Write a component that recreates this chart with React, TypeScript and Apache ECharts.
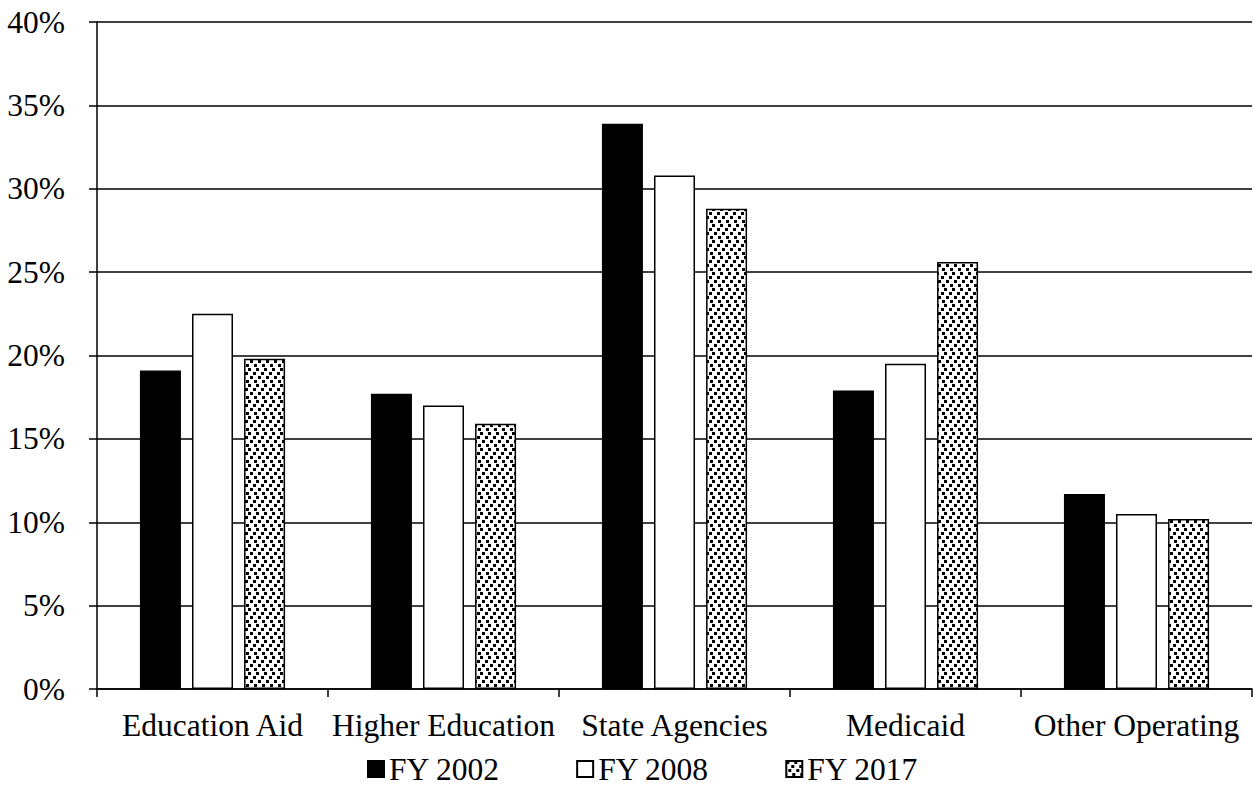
import React, { useEffect, useRef } from "react";
import * as echarts from "echarts";

const categories = ["Education Aid", "Higher Education", "State Agencies", "Medicaid", "Other Operating"];
const fy2002 = [19.1, 17.7, 33.9, 17.9, 11.7];
const fy2008 = [22.5, 17.0, 30.8, 19.5, 10.5];
const fy2017 = [19.8, 15.9, 28.8, 25.6, 10.2];
const seriesNames = ["FY 2002", "FY 2008", "FY 2017"];

const FONT = "'Liberation Serif', 'Times New Roman', serif";
const FS = 31.5;

function makePattern(): any {
  const c = document.createElement("canvas");
  c.width = 8;
  c.height = 16;
  const ctx = c.getContext("2d")!;
  ctx.fillStyle = "#fff";
  ctx.fillRect(0, 0, 8, 16);
  ctx.fillStyle = "#000";
  const pts = [
    [0, 0],
    [5, 4],
    [2, 8],
    [6, 12],
  ];
  for (const [x, y] of pts) {
    ctx.fillRect(x, y, 3, 3);
    if (x + 3 > 8) ctx.fillRect(x - 8, y, 3, 3);
  }
  return {
    image: c.toDataURL(),
    repeat: "repeat",
    imageWidth: 8,
    imageHeight: 16,
  };
}

export default function App() {
  const ref = useRef<HTMLDivElement>(null);
  useEffect(() => {
    if (!ref.current) return;
    const chart = echarts.init(ref.current, undefined, { renderer: "svg" });
    const pattern = makePattern();
    const border = { borderColor: "#000", borderWidth: 1.5 };
    chart.setOption({
      animation: false,
      backgroundColor: "#fff",
      textStyle: { fontFamily: FONT, color: "#000" },
      grid: { left: 97, right: 1, top: 22, bottom: 101, containLabel: false },
      legend: {
        top: 750,
        left: 362,
        padding: [0, 5],
        itemWidth: 16,
        itemHeight: 16,
        itemGap: 76,
        icon: "rect",
        textStyle: { fontFamily: FONT, fontSize: FS, color: "#000", lineHeight: 38 },
        data: seriesNames,
      },
      xAxis: {
        type: "category",
        data: categories,
        axisLine: { lineStyle: { color: "#000", width: 1.5 } },
        axisTick: { show: true, length: 8, lineStyle: { color: "#000", width: 1.5 } },
        axisLabel: { fontFamily: FONT, fontSize: FS, color: "#000", margin: 20, interval: 0 },
      },
      yAxis: {
        type: "value",
        min: 0,
        max: 40,
        interval: 5,
        axisLine: { show: true, lineStyle: { color: "#000", width: 1.5 } },
        axisTick: { show: true, length: 8, lineStyle: { color: "#000", width: 1.5 } },
        axisLabel: { fontFamily: FONT, fontSize: FS, color: "#000", margin: 32, formatter: "{value}%" },
        splitLine: { lineStyle: { color: "#000", width: 1.5 } },
      },
      series: [
        {
          name: seriesNames[0],
          type: "bar",
          data: fy2002,
          barWidth: 41,
          barGap: "27%",
          itemStyle: { color: "#000", ...border },
        },
        {
          name: seriesNames[1],
          type: "bar",
          data: fy2008,
          barWidth: 41,
          barGap: "27%",
          itemStyle: { color: "#fff", ...border },
        },
        {
          name: seriesNames[2],
          type: "bar",
          data: fy2017,
          barWidth: 41,
          barGap: "27%",
          itemStyle: { color: pattern, ...border },
        },
      ],
    });
    return () => chart.dispose();
  }, []);
  return (
    <div
      ref={ref}
      style={{ position: "fixed", left: 0, top: 0, width: 1253, height: 790, background: "#fff" }}
    />
  );
}
